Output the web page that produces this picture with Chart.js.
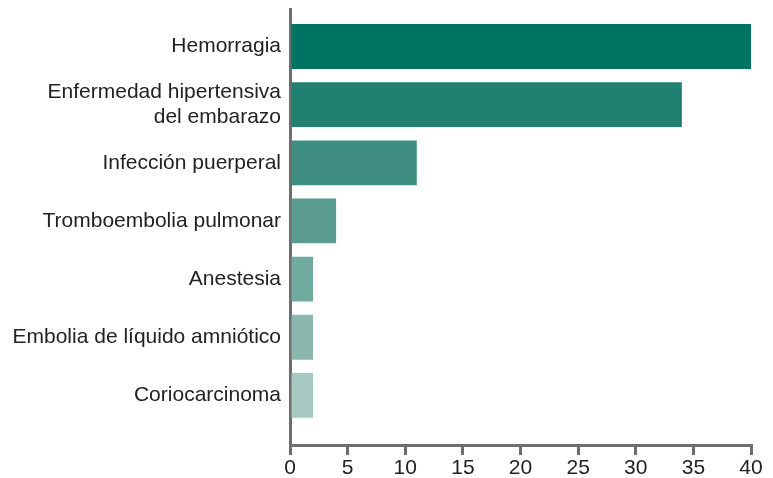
<!DOCTYPE html>
<html>
<head>
<meta charset="utf-8">
<script src="https://cdn.jsdelivr.net/npm/chart.js@4"></script>
<style>
  html, body { margin: 0; padding: 0; background: #fff; }
  #wrap { width: 773px; height: 478px; }
</style>
</head>
<body>
<div id="wrap"><canvas id="c" width="773" height="478"></canvas></div>
<script>
const categories = [
  "Hemorragia",
  ["Enfermedad hipertensiva", "del embarazo"],
  "Infección puerperal",
  "Tromboembolia pulmonar",
  "Anestesia",
  "Embolia de líquido amniótico",
  "Coriocarcinoma"
];
const values = [40, 34, 11, 4, 2, 2, 2];
const barColors = ["#007462", "#218171", "#3e8d80", "#5a9b8f", "#70a99e", "#8ab8ae", "#a5c8c0"];
const xTicks = [0, 5, 10, 15, 20, 25, 30, 35, 40];

const axisColor = "#6e6e6e";
const textColor = "#222222";
const font = { family: "'Liberation Sans', Arial, Helvetica, sans-serif", size: 21, lineHeight: 1.15 };

new Chart(document.getElementById("c"), {
  type: "bar",
  data: {
    datasets: [{
      data: values.map((v, i) => ({ x: v, y: i })),
      backgroundColor: barColors,
      borderWidth: 0,
      barPercentage: 0.77,
      categoryPercentage: 1
    }]
  },
  options: {
    indexAxis: "y",
    responsive: false,
    animation: false,
    layout: { padding: { top: 9, right: 22, left: 0, bottom: 0 } },
    plugins: { legend: { display: false }, tooltip: { enabled: false } },
    scales: {
      x: {
        type: "linear",
        min: 0, max: 40,
        afterBuildTicks: s => { s.ticks = xTicks.map(v => ({ value: v })); },
        afterFit: s => { s.height = 33; },
        ticks: { color: textColor, font: font, padding: 1, maxRotation: 0 },
        grid: { drawOnChartArea: false, drawTicks: true, tickLength: 10, color: axisColor, lineWidth: 3 },
        border: { display: true, color: axisColor, width: 3 }
      },
      y: {
        type: "linear",
        reverse: true,
        offset: false,
        min: -0.645, max: 6.853,
        afterBuildTicks: s => { s.ticks = categories.map((_, i) => ({ value: i })); },
        afterFit: s => { s.width = 290; s.paddingTop = 0; s.paddingBottom = 0; },
        ticks: { color: textColor, font: font, padding: 9, callback: v => categories[v] },
        grid: { offset: false, drawOnChartArea: false, drawTicks: false },
        border: { display: true, color: axisColor, width: 3 }
      }
    }
  }
});
</script>
</body>
</html>
